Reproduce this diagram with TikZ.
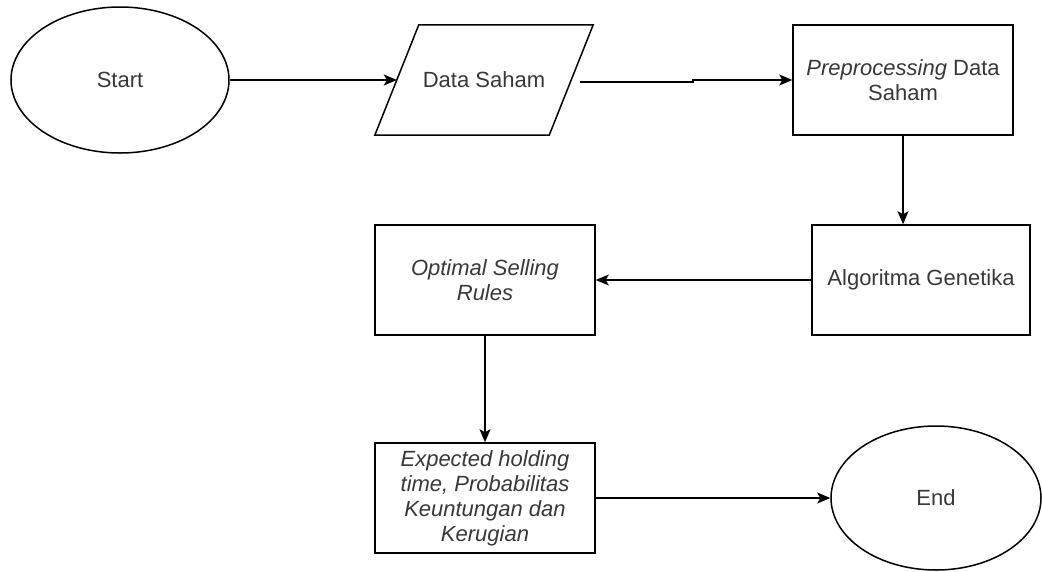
\documentclass[tikz,border=0pt]{standalone}
\usepackage{fontspec}
\setmainfont{Liberation Sans}
\usetikzlibrary{arrows.meta,shapes.geometric}
\definecolor{txt}{HTML}{383838}
\begin{document}
\begin{tikzpicture}[x=1pt,y=-1pt,
  lbl/.style={text=txt, align=center, font=\fontsize{22}{25}\selectfont, inner sep=0pt},
  box/.style={lbl, draw, line width=1.5pt, minimum width=220pt, minimum height=110pt},
  oval/.style={lbl, draw, ellipse, line width=1.5pt},
  arr/.style={line width=1.5pt, -{Stealth[length=13pt,width=11pt,inset=3pt]}}]
\fill[white] (0,0) rectangle (1042,571);
\useasboundingbox (0,0) rectangle (1042,571);

\node[oval, minimum width=218pt, minimum height=146pt] (start) at (120,80) {Start};
\node[lbl, minimum width=174pt, minimum height=110pt] (data) at (484,80) {Data Saham};
\draw[line width=1.5pt, line join=miter] ([xshift=-22pt]data.south west) -- ([xshift=-22pt]data.south east) -- ([xshift=22pt]data.north east) -- ([xshift=22pt]data.north west) -- cycle;
\node[box] (prep) at (903,80) {\textit{Preprocessing} Data\\Saham};
\node[box, minimum width=218pt] (algo) at (921,280) {Algoritma Genetika};
\node[box] (opt) at (485,280) {\textit{Optimal Selling}\\\textit{Rules}};
\node[box] (expt) at (485,498) {\textit{Expected holding}\\\textit{time, Probabilitas}\\\textit{Keuntungan dan}\\\textit{Kerugian}};
\node[oval, minimum width=210pt, minimum height=144pt] (stop) at (936,498) {End};

\draw[arr] (start.east) -- (data.west);
\draw[arr] ([xshift=9pt,yshift=-2pt]data.east) -- ++(113,0) |- (prep.west);
\draw[arr] (prep.south) -- (prep.south |- algo.north);
\draw[arr] (algo.west) -- (opt.east);
\draw[arr] (opt.south) -- (expt.north);
\draw[arr] (expt.east) -- (stop.west);
\end{tikzpicture}
\end{document}
